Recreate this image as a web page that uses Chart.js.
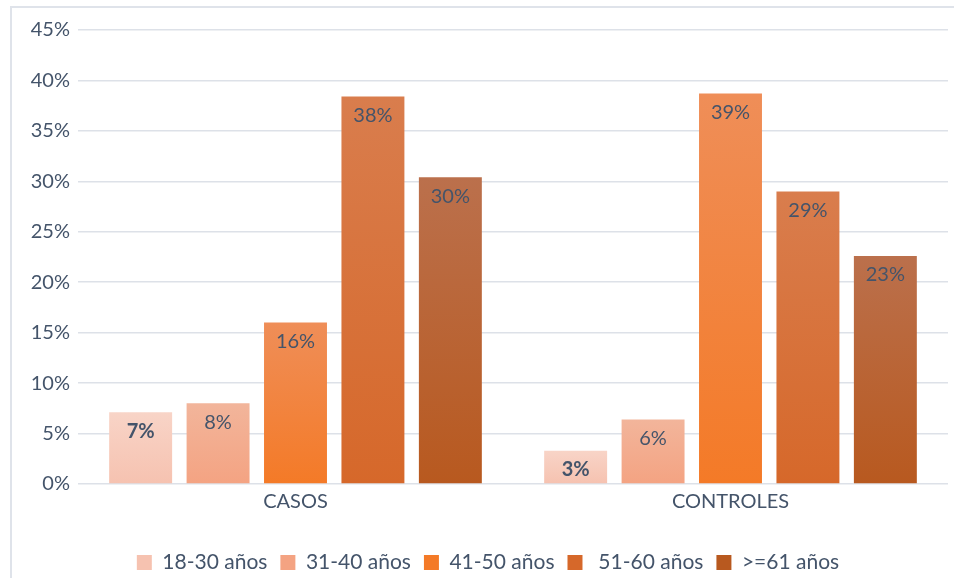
<!DOCTYPE html>
<html>
<head>
<meta charset="utf-8">
<script src="https://cdn.jsdelivr.net/npm/chart.js@4/dist/chart.umd.min.js"></script>
<style>
html,body{margin:0;padding:0;background:#fff;}
#wrap{width:954px;height:578px;position:relative;}
</style>
</head>
<body>
<div id="wrap"><canvas id="c" width="954" height="578"></canvas></div>
<script>
const categories = ['CASOS', 'CONTROLES'];
const seriesLabels = ['18-30 años', '31-40 años', '41-50 años', ' 51-60 años', '>=61 años'];
const age18_30 = [7.1, 3.3];
const age31_40 = [8.0, 6.4];
const age41_50 = [16.0, 38.7];
const age51_60 = [38.4, 29.0];
const age61plus = [30.4, 22.6];
const yTicks = [0, 5, 10, 15, 20, 25, 30, 35, 40, 45];

const seriesValues = [age18_30, age31_40, age41_50, age51_60, age61plus];
const gradTop = ['#f8d4c7', '#f2b59b', '#ef8e58', '#d97d4d', '#bb704c'];
const gradBot = ['#f6c2b0', '#f4a382', '#f47a27', '#d6682a', '#b8591f'];
const solid = ['#f7cbbc', '#f3ac8f', '#f28436', '#d87238', '#bb6838'];
const textColor = '#44546a';
const FONT = 'Lato, "Open Sans", sans-serif';

function makeBg(i) {
  return function (ctx) {
    if (ctx.type !== 'data' || !ctx.chart.scales || !ctx.chart.scales.y) return solid[i];
    const y = ctx.chart.scales.y;
    const top = y.getPixelForValue(ctx.raw);
    const bot = y.getPixelForValue(0);
    if (!isFinite(top) || !isFinite(bot) || top === bot) return solid[i];
    const g = ctx.chart.ctx.createLinearGradient(0, top, 0, bot);
    g.addColorStop(0, gradTop[i]);
    g.addColorStop(1, gradBot[i]);
    return g;
  };
}

const datasets = seriesValues.map((vals, i) => ({
  label: seriesLabels[i],
  data: vals,
  backgroundColor: makeBg(i),
  borderWidth: 0,
  categoryPercentage: 0.89,
  barPercentage: 0.813
}));

const borderPlugin = {
  id: 'outerBorder',
  beforeDraw(chart) {
    const c = chart.ctx;
    c.save();
    c.fillStyle = '#fff';
    c.fillRect(0, 0, chart.width, chart.height);
    c.strokeStyle = '#dfe3ea';
    c.lineWidth = 2;
    c.strokeRect(11, 7, chart.width + 20, chart.height + 20);
    c.restore();
  }
};

const labelPlugin = {
  id: 'barLabels',
  afterDatasetsDraw(chart) {
    const c = chart.ctx;
    c.save();
    c.textAlign = 'center';
    c.textBaseline = 'middle';
    c.fillStyle = textColor;
    chart.data.datasets.forEach((ds, di) => {
      const meta = chart.getDatasetMeta(di);
      meta.data.forEach((bar, idx) => {
        const v = ds.data[idx];
        c.font = (di === 0 ? 'bold ' : '') + '20px ' + FONT;
        c.fillText(Math.round(v) + '%', bar.x, bar.y + 19);
      });
    });
    c.restore();
  }
};

new Chart(document.getElementById('c'), {
  type: 'bar',
  data: { labels: categories, datasets: datasets },
  options: {
    responsive: false,
    animation: false,
    devicePixelRatio: 1,
    layout: { padding: { left: 28, right: 6, top: 30, bottom: -5 } },
    scales: {
      x: {
        afterFit(scale) { scale.height = 55; },
        grid: { display: false, drawTicks: false },
        border: { display: false },
        ticks: { color: textColor, font: { family: FONT, size: 20 }, padding: 6 }
      },
      y: {
        min: 0,
        max: 45,
        afterBuildTicks(scale) { scale.ticks = yTicks.map(v => ({ value: v })); },
        afterFit(scale) { scale.width = 50; },
        grid: { color: '#dde1e8', lineWidth: 1.5, drawTicks: false },
        border: { display: false },
        ticks: {
          color: textColor,
          font: { family: FONT, size: 20 },
          padding: 8,
          callback: v => v + '%'
        }
      }
    },
    plugins: {
      legend: {
        position: 'bottom',
        labels: {
          color: textColor,
          font: { family: FONT, size: 21 },
          boxWidth: 15,
          boxHeight: 15,
          padding: 13
        }
      },
      tooltip: { enabled: false }
    }
  },
  plugins: [borderPlugin, labelPlugin]
});
</script>
</body>
</html>
